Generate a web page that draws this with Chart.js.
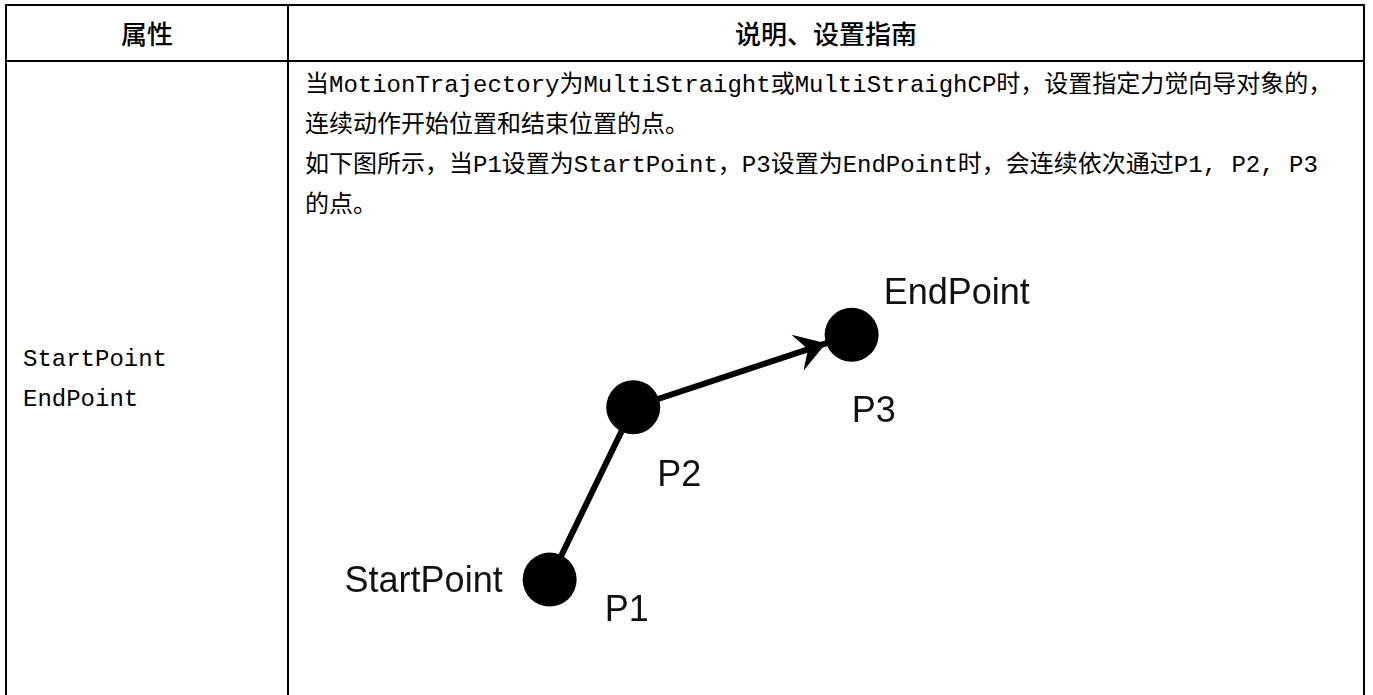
<!doctype html>
<html>

<head>
    <meta charset="utf-8">
    <title>StartPoint / EndPoint</title>
    <script src="https://cdn.jsdelivr.net/npm/chart.js"></script>
    <style>
        body {
            margin: 0;
            background: #fff;
            width: 1373px;
            height: 695px;
            overflow: hidden;
            position: relative;
        }

        .line {
            position: absolute;
            background: #000;
        }

        .head {
            position: absolute;
            top: 6px;
            height: 54px;
            line-height: 54px;
            text-align: center;
            font-family: 'Noto Sans CJK SC', sans-serif;
            font-size: 26px;
            font-weight: 500;
            color: #000;
        }

        .txt {
            position: absolute;
            font-family: 'Liberation Mono', 'Noto Sans CJK SC', monospace;
            font-size: 24px;
            line-height: 40px;
            white-space: nowrap;
            color: #000;
        }

        #diagram {
            position: absolute;
            left: 290px;
            top: 230px;
        }
    </style>
</head>

<body>
    <!-- bordas da tabela -->
    <div class="line" style="left:5px;top:4px;width:1360px;height:2px"></div>
    <div class="line" style="left:5px;top:60px;width:1360px;height:2px"></div>
    <div class="line" style="left:5px;top:4px;width:2px;height:700px"></div>
    <div class="line" style="left:287px;top:4px;width:2px;height:700px"></div>
    <div class="line" style="left:1363px;top:4px;width:2px;height:700px"></div>

    <div class="head" style="left:7px;width:280px">属性</div>
    <div class="head" style="left:289px;width:1074px">说明、设置指南</div>

    <div class="txt" style="left:305px;top:66px">
        当MotionTrajectory为MultiStraight或MultiStraighCP时，设置指定力觉向导对象的，<br>
        连续动作开始位置和结束位置的点。<br>
        如下图所示，当P1设置为StartPoint，P3设置为EndPoint时，会连续依次通过P1, P2, P3<br>
        的点。
    </div>

    <div class="txt" style="left:23px;top:340px">
        StartPoint<br>
        EndPoint
    </div>

    <canvas id="diagram" width="1072" height="465"></canvas>

    <script>
        var pointNames = ['P1', 'P2', 'P3'];
        var pointX = [24.5, 33.3, 56.3];
        var pointY = [10.0, 29.5, 37.7];
        var roleNames = ['StartPoint', '', 'EndPoint'];

        var pontos = pointX.map(function (x, i) {
            return { x: x, y: pointY[i] };
        });

        // rotulos e seta desenhados depois dos pontos
        var rotulos = {
            id: 'rotulos',
            afterDatasetsDraw: function (chart, args, opts) {
                var ctx = chart.ctx;
                var els = chart.getDatasetMeta(0).data;
                ctx.save();
                ctx.fillStyle = '#111';
                ctx.font = '36px "Liberation Sans", Arial, sans-serif';
                ctx.textBaseline = 'alphabetic';

                els.forEach(function (el, i) {
                    var o = opts.nameOffsets[i];
                    ctx.textAlign = 'left';
                    ctx.fillText(pointNames[i], el.x + o[0], el.y + o[1]);
                    var r = opts.roleOffsets[i];
                    if (roleNames[i] && r) {
                        ctx.textAlign = r[2];
                        ctx.fillText(roleNames[i], el.x + r[0], el.y + r[1]);
                    }
                });

                // seta no ultimo segmento
                var a = els[els.length - 2], b = els[els.length - 1];
                var dx = b.x - a.x, dy = b.y - a.y;
                var len = Math.sqrt(dx * dx + dy * dy);
                var ux = dx / len, uy = dy / len;
                var nx = -uy, ny = ux;
                var tipX = b.x - ux * opts.radius, tipY = b.y - uy * opts.radius;
                ctx.fillStyle = '#000';
                ctx.beginPath();
                ctx.moveTo(tipX, tipY);
                ctx.lineTo(tipX - ux * 30 + nx * 19, tipY - uy * 30 + ny * 19);
                ctx.lineTo(tipX - ux * 19, tipY - uy * 19);
                ctx.lineTo(tipX - ux * 30 - nx * 19, tipY - uy * 30 - ny * 19);
                ctx.closePath();
                ctx.fill();
                ctx.restore();
            }
        };

        var diagrama = new Chart(document.getElementById('diagram').getContext('2d'), {
            type: 'scatter',
            data: {
                datasets: [{
                    data: pontos,
                    showLine: true,
                    borderColor: '#000',
                    borderWidth: 6,
                    pointRadius: 27,
                    pointBackgroundColor: '#000',
                    pointBorderWidth: 0,
                    clip: false
                }]
            },
            options: {
                responsive: false,
                animation: false,
                events: [],
                layout: { padding: 0 },
                scales: {
                    x: { display: false, min: 0, max: 107.2 },
                    y: { display: false, min: 0, max: 46.5 }
                },
                plugins: {
                    legend: { display: false },
                    tooltip: { enabled: false },
                    rotulos: {
                        radius: 27,
                        nameOffsets: [[55, 41], [24, 79], [0, 87]],
                        roleOffsets: [[-47, 12, 'right'], null, [32, -31, 'left']]
                    }
                }
            },
            plugins: [rotulos]
        });
    </script>
</body>

</html>
